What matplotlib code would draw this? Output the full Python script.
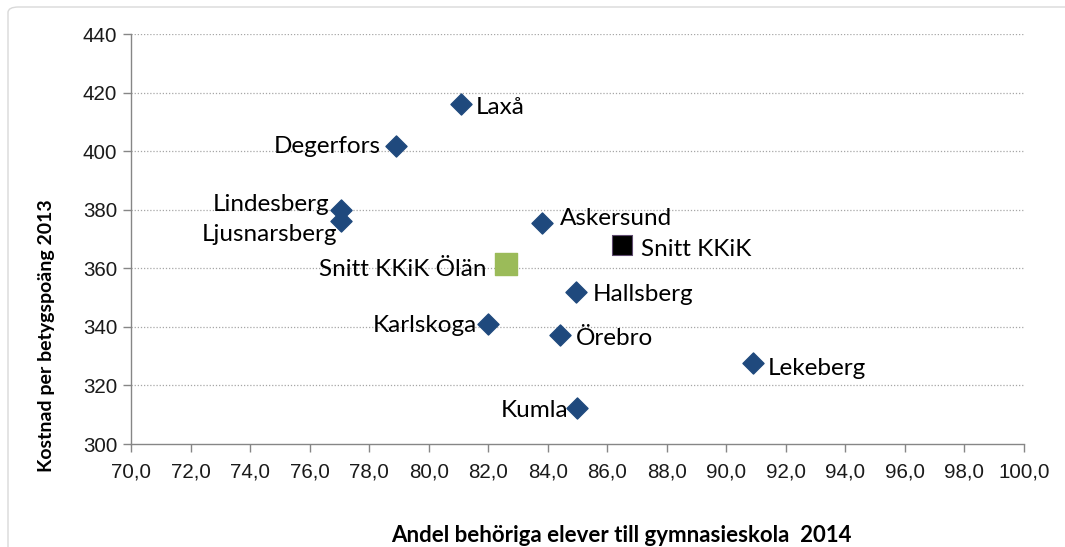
import matplotlib
matplotlib.use("Agg")
import matplotlib.pyplot as plt
from matplotlib.patches import FancyBboxPatch

# Data
names = ["Laxå", "Degerfors", "Lindesberg", "Ljusnarsberg", "Askersund",
         "Hallsberg", "Karlskoga", "Örebro", "Lekeberg", "Kumla"]
x_vals = [81.1, 78.9, 77.05, 77.05, 83.8, 84.95, 82.0, 84.4, 90.9, 85.0]
y_vals = [416.0, 401.6, 380.0, 376.0, 375.3, 352.0, 341.0, 337.3, 327.8, 312.3]

avg_names = ["Snitt KKiK", "Snitt KKiK Ölän"]
avg_x = [86.5, 82.6]
avg_y = [367.9, 361.5]

x_ticks = [70, 72, 74, 76, 78, 80, 82, 84, 86, 88, 90, 92, 94, 96, 98, 100]
y_ticks = [300, 320, 340, 360, 380, 400, 420, 440]

# label offsets (pixels: dx, dy with y downward) and alignment
label_pos = {
    "Laxå": (14, -3, "left"),
    "Degerfors": (-15, 0, "right"),
    "Lindesberg": (-11, 5, "right"),
    "Ljusnarsberg": (-4, -13, "right"),
    "Askersund": (18, 5, "left"),
    "Hallsberg": (17, -3, "left"),
    "Karlskoga": (-11, -2, "right"),
    "Örebro": (16, -4, "left"),
    "Lekeberg": (15, -6, "left"),
    "Kumla": (-9, -3, "right"),
    "Snitt KKiK": (19, -4, "left"),
    "Snitt KKiK Ölän": (-20, -6, "right"),
}

W, H = 1065, 547
fig = plt.figure(figsize=(W / 100, H / 100), dpi=100)
fig.patch.set_facecolor("white")

# outer chart border
border = FancyBboxPatch((8 / W, -0.05), 1.2, 1.05 - 7 / H,
                        boxstyle="round,pad=0,rounding_size=0.01",
                        transform=fig.transFigure, fill=False,
                        edgecolor="#d9d9d9", linewidth=1.0)
fig.patches.append(border)

left, right = 131 / W, 1024 / W
bottom, top = 1 - 444 / H, 1 - 34 / H
ax = fig.add_axes([left, bottom, right - left, top - bottom])

ax.set_xlim(70, 100)
ax.set_ylim(300, 440)
ax.set_xticks(x_ticks)
ax.set_yticks(y_ticks)
ax.set_xticklabels([f"{v:.1f}".replace(".", ",") for v in x_ticks])
ax.set_yticklabels([str(v) for v in y_ticks])

for s in ["top", "right"]:
    ax.spines[s].set_visible(False)
for s in ["left", "bottom"]:
    ax.spines[s].set_color("#868686")
    ax.spines[s].set_linewidth(1.0)

ax.tick_params(axis="both", colors="#868686", length=6, width=1.0,
               labelcolor="#1a1a1a", labelsize=14.8)
ax.tick_params(axis="x", pad=7)
ax.tick_params(axis="y", pad=4)
for lab in ax.get_xticklabels() + ax.get_yticklabels():
    lab.set_family("Liberation Sans")

for yv in y_ticks[1:]:
    ax.axhline(yv, color="#a6a6a6", linestyle=(0, (1, 1.5)), linewidth=0.9, zorder=1)

ax.scatter(x_vals, y_vals, marker="D", s=115, color="#1f497d",
           edgecolors="#1f497d", zorder=3)
ax.scatter([avg_x[0]], [avg_y[0]], marker="s", s=190, color="black",
           edgecolors="#5f4b6f", linewidths=0.8, zorder=3)
ax.scatter([avg_x[1]], [avg_y[1]], marker="s", s=260, color="#9bbb59",
           edgecolors="#9bbb59", zorder=3)

lab_font = ["Lato", "DejaVu Sans"]
all_names = names + avg_names
all_x = x_vals + avg_x
all_y = y_vals + avg_y
for n, xv, yv in zip(all_names, all_x, all_y):
    dx, dy, ha = label_pos[n]
    ax.annotate(n, (xv, yv), xytext=(dx * 0.72, dy * 0.72),
                textcoords="offset points", ha=ha, va="center",
                fontsize=17.5, family=lab_font, color="black", zorder=4)

fig.text((389 + 853) / 2 / W, 1 - 535 / H,
         "Andel behöriga elever till gymnasieskola  2014",
         ha="center", va="center", fontsize=16, fontweight="bold",
         family=lab_font)
fig.text(47 / W, 1 - 336 / H, "Kostnad per betygspoäng 2013",
         ha="center", va="center", rotation=90, fontsize=14,
         fontweight="bold", family=lab_font)

fig.savefig("out.png", dpi=100)
